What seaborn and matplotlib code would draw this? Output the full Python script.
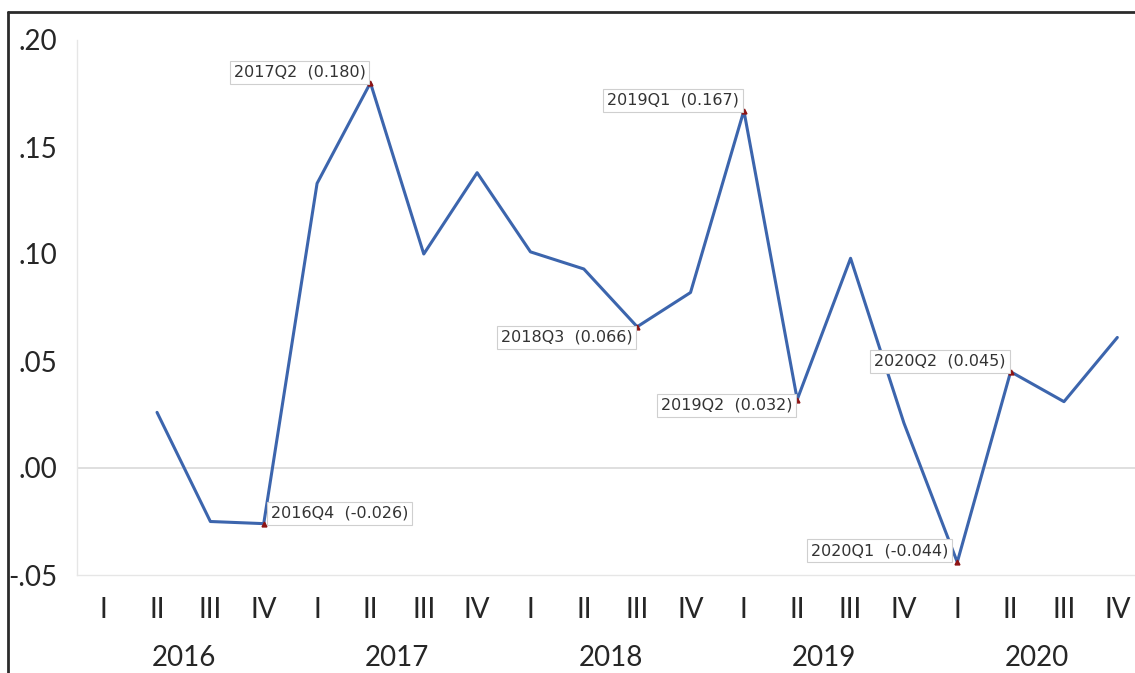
import matplotlib
matplotlib.use("Agg")
import matplotlib.pyplot as plt
from matplotlib.lines import Line2D
import numpy as np
import pandas as pd
import seaborn as sns

# Quarterly series, 2016Q1 .. 2020Q4 (2016Q1 missing)
years = [2016, 2017, 2018, 2019, 2020]
quarter_labels = ["I", "II", "III", "IV"]
values = [
    np.nan, 0.026, -0.025, -0.026,
    0.133, 0.180, 0.100, 0.138,
    0.101, 0.093, 0.066, 0.082,
    0.167, 0.032, 0.098, 0.021,
    -0.044, 0.045, 0.031, 0.061,
]
periods = [f"{y}Q{q}" for y in years for q in range(1, 5)]

# Annotated points: period, label value
marked = ["2016Q4", "2017Q2", "2018Q3", "2019Q1", "2019Q2", "2020Q1", "2020Q2"]
marked_vals = [-0.026, 0.180, 0.066, 0.167, 0.032, -0.044, 0.045]

df = pd.DataFrame({"t": np.arange(len(values)), "value": values, "period": periods})

sns.set_theme(style="white")
plt.rcParams["font.family"] = ["Lato", "DejaVu Sans"]

fig = plt.figure(figsize=(11.35, 6.73), dpi=100)
ax = fig.add_axes([77 / 1135, 1 - 575 / 673, 1067 / 1135, 535 / 673])

# 1. Zero reference line and the series
ax.axhline(0, color="#d9d9d9", linewidth=1.2, zorder=1)
sns.lineplot(data=df.dropna(), x="t", y="value", ax=ax, color="#3c65ad",
             linewidth=2.2, zorder=3)

# 2. Marked points with boxed labels
offsets = {
    "2016Q4": ("left", "bottom", 7, 3),
    "2017Q2": ("right", "bottom", -5, 3),
    "2018Q3": ("right", "top", -5, -3),
    "2019Q1": ("right", "bottom", -5, 3),
    "2019Q2": ("right", "top", -5, 2),
    "2020Q1": ("right", "bottom", -9, 4),
    "2020Q2": ("right", "bottom", -5, 3),
}
for p, v in zip(marked, marked_vals):
    t = periods.index(p)
    ax.plot(t, values[t], marker="^", markersize=3.5, color="#8e1414", zorder=4)
    ha, va, dx, dy = offsets[p]
    ax.annotate(
        f"{p}  ({v:.3f})",
        (t, values[t]),
        xytext=(dx, dy),
        textcoords="offset pixels",
        ha=ha,
        va=va,
        fontsize=11.5,
        family=["DejaVu Sans"],
        color="#333333",
        bbox=dict(boxstyle="square,pad=0.25", fc="white", ec="#cfcfcf", lw=0.8),
        zorder=5,
    )

# 3. Axes formatting
ax.set_xlim(-0.5, 19.5)
ax.set_ylim(-0.05, 0.20)
yt = [-0.05, 0.0, 0.05, 0.10, 0.15, 0.20]
ax.set_yticks(yt)
ax.set_yticklabels([f"{v:.2f}".replace("0.", ".") for v in yt])
ax.set_xticks(np.arange(len(values)))
ax.set_xticklabels(quarter_labels * len(years))
ax.tick_params(axis="both", length=0, labelsize=20, colors="#262626")
ax.tick_params(axis="y", pad=14)
ax.tick_params(axis="x", pad=16)
ax.set_xlabel("")
ax.set_ylabel("")
for s in ax.spines.values():
    s.set_color("#e6e6e6")
    s.set_linewidth(1.0)
ax.spines["right"].set_visible(False)
ax.spines["top"].set_visible(False)

for i, y in enumerate(years):
    ax.text(i * 4 + 1.5, -0.155, str(y), transform=ax.get_xaxis_transform(),
            ha="center", va="center", fontsize=20, color="#262626")

# 4. Outer frame (left and top)
fig.add_artist(Line2D([8 / 1135, 8 / 1135], [0, 1 - 12 / 673],
                      transform=fig.transFigure, color="#2b2b2b", lw=2))
fig.add_artist(Line2D([8 / 1135, 1], [1 - 12 / 673, 1 - 12 / 673],
                      transform=fig.transFigure, color="#2b2b2b", lw=2))

fig.savefig("out.png", dpi=100)
plt.close(fig)
